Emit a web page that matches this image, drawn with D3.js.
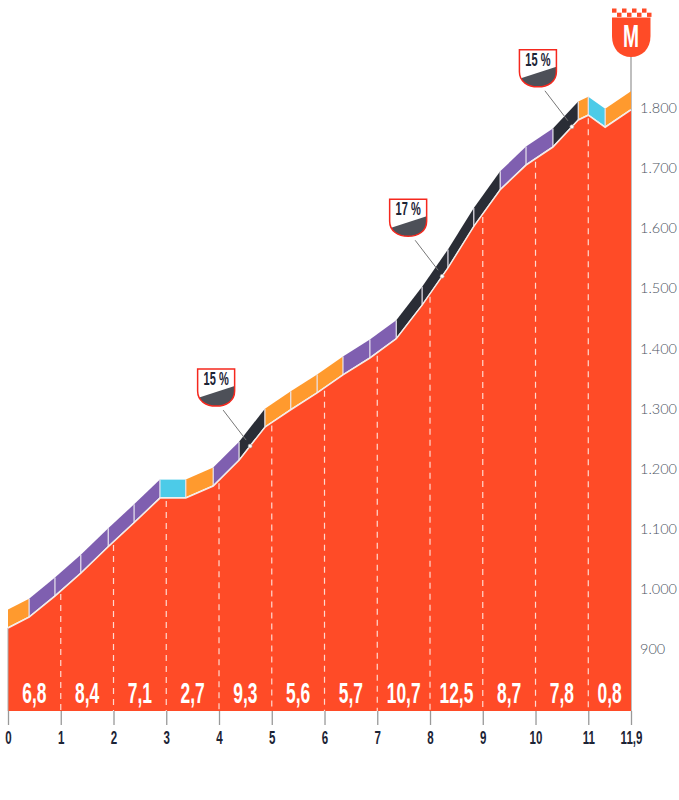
<!DOCTYPE html>
<html>
<head>
<meta charset="utf-8">
<script src="https://cdn.jsdelivr.net/npm/d3@7"></script>
<style>
  html, body { margin: 0; padding: 0; background: #fff; }
  svg { display: block; }
</style>
</head>
<body>
<div id="chart"></div>
<script>
// profile
const kmPoints = [0, 0.4, 0.89, 1.38, 1.9, 2.39, 2.88, 3.37, 3.89, 4.38, 4.87, 5.36, 5.86, 6.35, 6.86, 7.36, 7.85, 8.34, 8.83, 9.33, 9.82, 10.33, 10.81, 11, 11.32, 11.81];
const elevations = [935, 953, 988, 1026, 1070, 1110, 1151, 1151, 1171, 1214, 1269, 1298, 1326, 1356, 1384, 1416, 1472, 1534, 1603, 1664, 1705, 1735, 1780, 1788, 1768, 1797];
const segGrades = ["mid", "hard", "hard", "hard", "hard", "hard", "flat", "mid", "hard", "steep", "mid", "mid", "mid", "hard", "hard", "steep", "steep", "steep", "steep", "hard", "hard", "steep", "mid", "flat", "mid"];

const kmLabels = ["6,8", "8,4", "7,1", "2,7", "9,3", "5,6", "5,7", "10,7", "12,5", "8,7", "7,8", "0,8"];
const xTicks = [0, 1, 2, 3, 4, 5, 6, 7, 8, 9, 10, 11, 11.81];
const xTickLabels = ["0", "1", "2", "3", "4", "5", "6", "7", "8", "9", "10", "11", "11,9"];
const yTicks = [900, 1000, 1100, 1200, 1300, 1400, 1500, 1600, 1700, 1800];
const badgeLabels = ["15 %", "17 %", "15 %"];
const badgeKm = [4.59, 8.23, 10.69];

const w = 679;
const h = 800;
const bandHeight = 17.5;

const gradeColor = { flat: "#4ccbe8", mid: "#ff9a2e", hard: "#7f5fb0", steep: "#2a2d36" };
const red = "#ff4b27";

const xScale = d3.scaleLinear().domain([0, 11.81]).range([8, 631]);
const yScale = d3.scaleLinear().domain([900, 1800]).range([649, 108]);
const baseY = 711;

const profile = kmPoints.map((k, i) => [k, elevations[i]]);
const elevAt = d3.scaleLinear().domain(kmPoints).range(elevations);

const svg = d3.select("#chart").append("svg")
  .attr("width", w)
  .attr("height", h);

const condensed = "'Liberation Sans Narrow', 'Liberation Sans', sans-serif";

// top gray pole
svg.append("line")
  .attr("x1", 631).attr("x2", 631)
  .attr("y1", 50).attr("y2", baseY)
  .attr("stroke", "#aaaaaa").attr("stroke-width", 1.5);

// the red area
const area = d3.area()
  .x(d => xScale(d[0]))
  .y0(baseY)
  .y1(d => yScale(d[1]));

svg.append("path")
  .attr("d", area(profile))
  .attr("fill", red);

svg.append("line")
  .attr("x1", 8).attr("x2", 8)
  .attr("y1", yScale(elevations[0])).attr("y2", baseY)
  .attr("stroke", "#aaaaaa").attr("stroke-width", 1);

// coloured band above the profile
const bands = svg.append("g");
segGrades.forEach((g, i) => {
  const x0 = xScale(kmPoints[i]);
  const x1 = xScale(kmPoints[i + 1]);
  const y0 = yScale(elevations[i]);
  const y1 = yScale(elevations[i + 1]);
  bands.append("path")
    .attr("d", `M${x0},${y0 - 1}L${x1},${y1 - 1}L${x1},${y1 - bandHeight - 1}L${x0},${y0 - bandHeight - 1}Z`)
    .attr("fill", gradeColor[g]);
  if (i > 0) {
    bands.append("line")
      .attr("x1", x0).attr("x2", x0)
      .attr("y1", y0).attr("y2", y0 - bandHeight - 1)
      .attr("stroke", "#e8e4ee").attr("stroke-width", 1.2);
  }
});

const topLine = d3.line()
  .x(d => xScale(d[0]))
  .y(d => yScale(d[1]));

svg.append("path")
  .attr("d", topLine(profile))
  .attr("fill", "none")
  .attr("stroke", "#f4ece8")
  .attr("stroke-width", 1.5);

// dashed km lines
svg.selectAll(".kmline")
  .data(xTicks.slice(1, -1))
  .enter()
  .append("line")
  .attr("class", "kmline")
  .attr("x1", d => xScale(d))
  .attr("x2", d => xScale(d))
  .attr("y1", d => yScale(elevAt(d)) + 3)
  .attr("y2", baseY)
  .attr("stroke", "#ffd9cf")
  .attr("stroke-width", 1.2)
  .attr("stroke-dasharray", "6 5");

// km gradients in white
svg.selectAll(".kmlabel")
  .data(kmLabels)
  .enter()
  .append("text")
  .attr("class", "kmlabel")
  .attr("transform", (d, i) => {
    const mid = (xScale(xTicks[i]) + xScale(xTicks[i + 1])) / 2;
    return `translate(${mid},703) scale(0.58,1)`;
  })
  .attr("text-anchor", "middle")
  .attr("font-family", condensed)
  .attr("font-weight", "bold")
  .attr("font-size", 30)
  .attr("fill", "#fff")
  .text(d => d);

// axes
const xAxis = d3.axisBottom(xScale)
  .tickValues(xTicks)
  .tickSize(14)
  .tickPadding(6)
  .tickFormat((d, i) => xTickLabels[i]);

const gx = svg.append("g")
  .attr("transform", `translate(0, ${baseY})`)
  .call(xAxis);
gx.select(".domain").remove();
gx.selectAll("line").attr("stroke", "#999999").attr("stroke-width", 1.3);
gx.selectAll("text")
  .attr("font-family", condensed)
  .attr("font-weight", "bold")
  .attr("font-size", 18)
  .attr("fill", "#1c2436")
  .attr("transform", "scale(0.64,1)");

const yAxis = d3.axisRight(yScale)
  .tickValues(yTicks)
  .tickSize(0)
  .tickPadding(9)
  .tickFormat(d => d3.format(",")(d).replace(",", "."));

const gy = svg.append("g")
  .attr("transform", "translate(631, 0)")
  .call(yAxis);
gy.select(".domain").remove();
gy.selectAll("text")
  .attr("font-family", "Lato, sans-serif")
  .attr("font-weight", 300)
  .attr("font-size", 14.5)
  .attr("fill", "#4c5462");

// percent badges
const defs = svg.append("defs");
const shield = "M-18.5,-18V4C-18.5,14 -10,19 0,19C10,19 18.5,14 18.5,4V-18Z";
defs.append("clipPath").attr("id", "shieldClip").append("path").attr("d", shield);

badgeKm.forEach((k, i) => {
  const px = xScale(k);
  const py = yScale(elevAt(k));

  svg.append("line")
    .attr("x1", px - 27).attr("y1", py - 36)
    .attr("x2", px - 4).attr("y2", py - 6)
    .attr("stroke", "#777777").attr("stroke-width", 1);

  svg.append("circle")
    .attr("cx", px).attr("cy", py).attr("r", 2)
    .attr("fill", "#fff").attr("stroke", "#999999").attr("stroke-width", 0.6);

  const b = svg.append("g").attr("transform", `translate(${px - 34},${py - 59})`);
  b.append("path").attr("d", shield).attr("fill", "#fff");
  b.append("path")
    .attr("d", "M-18.5,11L18.5,-1V20H-18.5Z")
    .attr("fill", "#4d5058")
    .attr("clip-path", "url(#shieldClip)");
  b.append("path").attr("d", shield)
    .attr("fill", "none")
    .attr("stroke", "#f5281e")
    .attr("stroke-width", 1.5);
  b.append("text")
    .attr("transform", "translate(0,-2) scale(0.58,1)")
    .attr("text-anchor", "middle")
    .attr("font-family", condensed)
    .attr("font-weight", "bold")
    .attr("font-size", 19)
    .attr("fill", "#1c2436")
    .text(badgeLabels[i]);
});

// finish flag
const flag = svg.append("g").attr("transform", "translate(631,0)");
flag.append("path")
  .attr("d", "M-19,17.5V36C-19,49 -11,57 0,57C11,57 19.5,49 19.5,36V17.5Z")
  .attr("fill", red);
[-19, -9, 1, 11].forEach(dx => {
  flag.append("rect").attr("x", dx).attr("y", 8.5).attr("width", 4.5).attr("height", 4.2).attr("fill", red);
  flag.append("rect").attr("x", dx + 5).attr("y", 12.7).attr("width", 4.5).attr("height", 4.2).attr("fill", red);
});
flag.append("text")
  .attr("transform", "translate(0,47) scale(0.62,1)")
  .attr("text-anchor", "middle")
  .attr("font-family", condensed)
  .attr("font-weight", "bold")
  .attr("font-size", 31)
  .attr("fill", "#fff")
  .text("M");
</script>
</body>
</html>
